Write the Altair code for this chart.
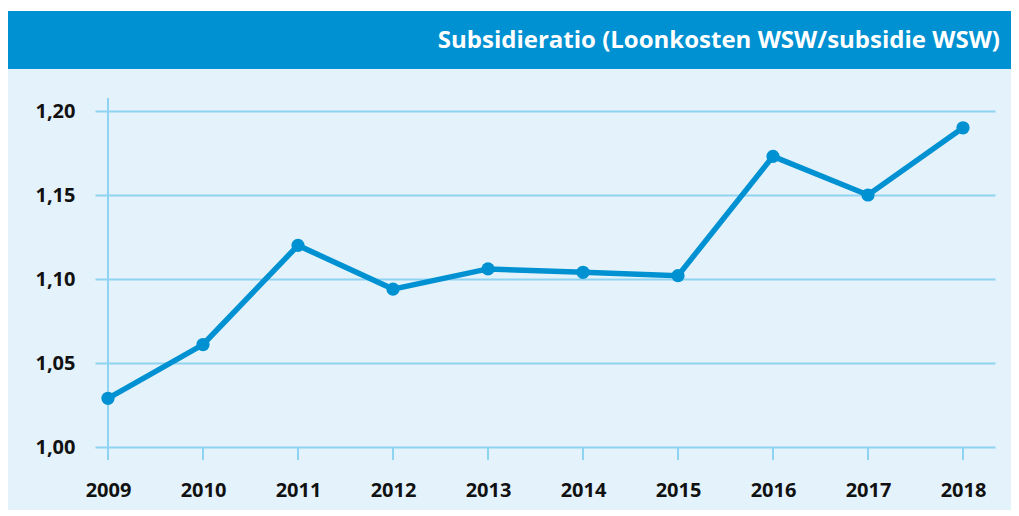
import altair as alt
import pandas as pd

years = [2009, 2010, 2011, 2012, 2013, 2014, 2015, 2016, 2017, 2018]
ratio = [1.029, 1.061, 1.120, 1.094, 1.106, 1.104, 1.102, 1.173, 1.150, 1.190]
y_ticks = [1.00, 1.05, 1.10, 1.15, 1.20]
title = "Subsidieratio (Loonkosten WSW/subsidie WSW)"

FONT = "Open Sans"
BLUE = "#0091d2"
LIGHT = "#e4f3fb"
GRID = "#8fd3f2"

df = pd.DataFrame({"year": years, "ratio": ratio})
ticks_df = pd.DataFrame({"year": years})
one = pd.DataFrame({"t": [title]})

XMIN, XMAX = 2009 - 13 / 95, 2018 + 32 / 95
YMIN, YMAX = 1.00 - 13 / 1680, 1.20 + 13 / 1680

xs = alt.Scale(domain=[XMIN, XMAX], nice=False, zero=False)
ys = alt.Scale(domain=[YMIN, YMAX], nice=False, zero=False)

white_strip = alt.Chart(one).mark_rect(color="white").encode(
    x=alt.value(-87), x2=alt.value(1000), y=alt.value(-95), y2=alt.value(-87)
)
header = alt.Chart(one).mark_rect(color=BLUE).encode(
    x=alt.value(-87), x2=alt.value(1000), y=alt.value(-87), y2=alt.value(-29)
)
title_txt = alt.Chart(one).mark_text(
    align="right", baseline="alphabetic", font=FONT, fontWeight="bold",
    fontSize=24, color="white"
).encode(x=alt.value(905), y=alt.value(-50), text="t:N")

base_x = alt.X("year:Q", scale=xs, axis=alt.Axis(
    values=years, format="d", grid=False, domain=False, ticks=False,
    labelPadding=20, labelFont=FONT, labelFontWeight="bold", labelFontSize=20,
    labelColor="#111111", title=None))
base_y = alt.Y("ratio:Q", scale=ys, axis=alt.Axis(
    values=y_ticks, grid=True, gridColor=GRID, gridWidth=2, domain=False,
    ticks=False, labelPadding=20, labelFont=FONT, labelFontWeight="bold",
    labelFontSize=20, labelColor="#111111", title=None,
    labelExpr="replace(format(datum.value, '.2f'), '.', ',')"))

line = alt.Chart(df).mark_line(color=BLUE, strokeWidth=5.5).encode(x=base_x, y=base_y)
pts = alt.Chart(df).mark_circle(color=BLUE, opacity=1, size=175).encode(
    x=alt.X("year:Q", scale=xs), y=alt.Y("ratio:Q", scale=ys))

yaxis_line = alt.Chart(pd.DataFrame({"year": [2009], "a": [YMIN], "b": [YMAX]})).mark_rule(
    color=GRID, strokeWidth=2).encode(
    x=alt.X("year:Q", scale=xs), y=alt.Y("a:Q", scale=ys), y2="b:Q")
xticks = alt.Chart(ticks_df.assign(a=YMIN, b=1.0)).mark_rule(
    color=GRID, strokeWidth=2).encode(
    x=alt.X("year:Q", scale=xs), y=alt.Y("a:Q", scale=ys), y2="b:Q")

chart = alt.layer(line, white_strip, header, title_txt, yaxis_line, xticks, pts).properties(
    width=900, height=362,
    autosize=alt.AutoSizeParams(type="none"),
    padding={"left": 87, "top": 90, "right": 16, "bottom": 50},
    background=LIGHT,
).configure_view(stroke=None)

chart.save("out.html", embed_options={"renderer": "svg", "actions": False})
